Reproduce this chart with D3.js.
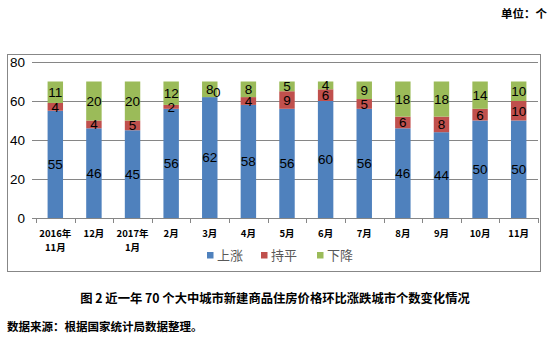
<!DOCTYPE html>
<html>
<head>
<meta charset="utf-8">
<script src="https://cdn.jsdelivr.net/npm/d3@7/dist/d3.min.js"></script>
<style>
  html, body { margin: 0; padding: 0; background: #fff; }
  svg { display: block; }
</style>
</head>
<body>
<svg id="chart" width="554" height="337"></svg>
<script>
// ---- data ----
const categories = ["2016年\n11月", "12月", "2017年\n1月", "2月", "3月", "4月", "5月", "6月", "7月", "8月", "9月", "10月", "11月"];
const seriesNames = ["上涨", "持平", "下降"];
const upValues   = [55, 46, 45, 56, 62, 58, 56, 60, 56, 46, 44, 50, 50];
const flatValues = [4, 4, 5, 2, 0, 4, 9, 6, 5, 6, 8, 6, 10];
const downValues = [11, 20, 20, 12, 8, 8, 5, 4, 9, 18, 18, 14, 10];
const yTicks = [0, 20, 40, 60, 80];
const unitText = "单位：个";
const captionText = "图 2 近一年 70 个大中城市新建商品住房价格环比涨跌城市个数变化情况";
const sourceText = "数据来源：根据国家统计局数据整理。";

const colors = ["#4f81bd", "#c0504d", "#9bbb59"];

(function () {
const svg = d3.select("#chart");
const pLeft = 36, pRight = 538, pTop = 62, pBottom = 218;

const xOuter = d3.scaleBand().domain(categories).range([pLeft, pRight]).padding(0);
const y = d3.scaleLinear().domain([0, 80]).range([pBottom, pTop]);

// outer frame
svg.append("rect")
  .attr("x", 7.5).attr("y", 54.5).attr("width", 533).attr("height", 217)
  .attr("fill", "none").attr("stroke", "#878787").attr("stroke-width", 1);

// y axis with gridlines
const yAxis = svg.append("g").attr("transform", `translate(${pLeft},0)`)
  .call(d3.axisLeft(y).tickValues(yTicks).tickSize(0).tickPadding(11));
yAxis.select(".domain").remove();
yAxis.selectAll(".tick line")
  .attr("x1", -4).attr("x2", pRight - pLeft)
  .attr("stroke", "#868686").attr("stroke-width", 1)
  .attr("shape-rendering", "crispEdges");
yAxis.selectAll(".tick text")
  .attr("font-family", "'Liberation Sans', Arial, sans-serif")
  .attr("font-size", "13.5px").attr("fill", "#000");

// category ticks at band boundaries
const boundaries = categories.map(c => xOuter(c)).concat([pRight]);
svg.append("g").selectAll("line").data(boundaries).join("line")
  .attr("x1", d => Math.round(d) + 0.5).attr("x2", d => Math.round(d) + 0.5)
  .attr("y1", pBottom).attr("y2", pBottom + 5)
  .attr("stroke", "#868686").attr("stroke-width", 1);

// stacked data
const table = categories.map((c, i) => ({ cat: c, "上涨": upValues[i], "持平": flatValues[i], "下降": downValues[i] }));
const stack = d3.stack().keys(seriesNames)(table);

const barFrac = 0.4;
const bw = xOuter.bandwidth() * barFrac;
const bx = c => xOuter(c) + (xOuter.bandwidth() - bw) / 2;

const layers = svg.append("g").selectAll("g").data(stack).join("g")
  .attr("fill", (d, i) => colors[i]);
layers.selectAll("rect").data(d => d).join("rect")
  .attr("x", d => bx(d.data.cat))
  .attr("width", bw)
  .attr("y", d => y(d[1]))
  .attr("height", d => y(d[0]) - y(d[1]));

// data labels
const labels = svg.append("g")
  .attr("font-family", "'Liberation Sans', Arial, sans-serif")
  .attr("font-size", "13.5px").attr("fill", "#000").attr("text-anchor", "middle");
stack.forEach((layer) => {
  labels.selectAll(null).data(layer).join("text")
    .attr("x", d => bx(d.data.cat) + bw / 2 + ((d[1] - d[0]) === 0 ? 7 : 0))
    .attr("y", d => (y(d[0]) + y(d[1])) / 2 - ((d[1] - d[0]) === 0 ? 5 : 0))
    .attr("dy", "0.36em")
    .text(d => d[1] - d[0]);
});

// category labels
const catG = svg.append("g")
  .attr("font-family", "'Noto Sans CJK SC', sans-serif")
  .attr("font-size", "9.5px").attr("font-weight", "bold").attr("fill", "#000")
  .attr("text-anchor", "middle");
categories.forEach(c => {
  const lines = c.split("\n");
  const t = catG.append("text");
  lines.forEach((ln, k) => {
    t.append("tspan").attr("x", xOuter(c) + xOuter.bandwidth() / 2)
      .attr("y", 234 + k * 13.5).attr("dy", "0.35em").text(ln);
  });
});

// legend
const legendX = [207, 261, 317];
const leg = svg.append("g");
seriesNames.forEach((name, i) => {
  leg.append("rect").attr("x", legendX[i]).attr("y", 252).attr("width", 6.5).attr("height", 6.5)
    .attr("fill", colors[i]);
  leg.append("text").attr("x", legendX[i] + 10).attr("y", 255.5).attr("dy", "0.35em")
    .attr("font-family", "'Noto Sans CJK SC', sans-serif")
    .attr("font-size", "13px").attr("fill", "#595959").text(name);
});

// texts outside
svg.append("text").attr("x", 547).attr("y", 14).attr("dy", "0.35em")
  .attr("text-anchor", "end")
  .attr("font-family", "'Noto Sans CJK SC', sans-serif")
  .attr("font-size", "11.5px").attr("font-weight", "bold").attr("fill", "#000")
  .text(unitText);
svg.append("text").attr("x", 275).attr("y", 299).attr("dy", "0.35em")
  .attr("text-anchor", "middle")
  .attr("font-family", "'Noto Sans CJK SC', sans-serif")
  .attr("font-size", "12.3px").attr("font-weight", "bold").attr("fill", "#000")
  .text(captionText);
svg.append("text").attr("x", 7).attr("y", 327).attr("dy", "0.35em")
  .attr("font-family", "'Noto Sans CJK SC', sans-serif")
  .attr("font-size", "11.5px").attr("font-weight", "bold").attr("fill", "#000")
  .text(sourceText);
})();
</script>
</body>
</html>
